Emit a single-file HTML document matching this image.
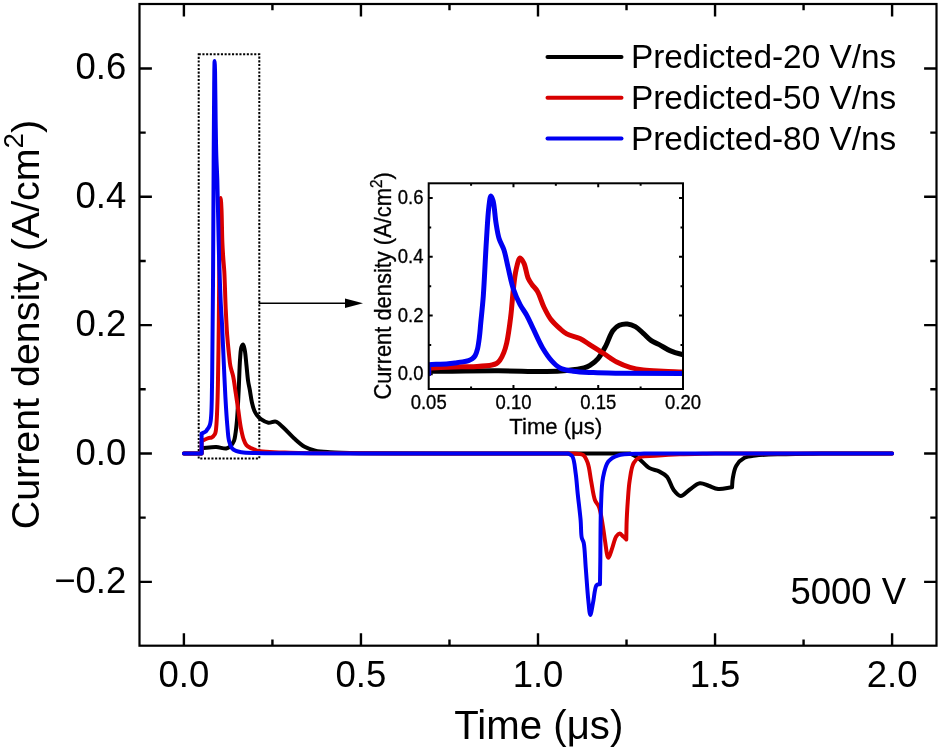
<!DOCTYPE html>
<html><head><meta charset="utf-8"><style>html,body{margin:0;padding:0;background:#fff;overflow:hidden}svg{display:block;will-change:transform}</style></head><body>
<svg width="940" height="750" viewBox="0 0 940 750">
<rect width="940" height="750" fill="#fff"/>
<defs><clipPath id="cm"><rect x="139.5" y="4.0" width="797.0" height="641.7"/></clipPath><clipPath id="ci"><rect x="428.7" y="183.3" width="254.3" height="205.7"/></clipPath></defs>
<path d="M183.90,645.7V633.30M183.90,4.0V16.40M272.43,645.7V639.50M272.43,4.0V10.20M360.95,645.7V633.30M360.95,4.0V16.40M449.48,645.7V639.50M449.48,4.0V10.20M538.00,645.7V633.30M538.00,4.0V16.40M626.52,645.7V639.50M626.52,4.0V10.20M715.05,645.7V633.30M715.05,4.0V16.40M803.58,645.7V639.50M803.58,4.0V10.20M892.10,645.7V633.30M892.10,4.0V16.40M139.5,581.85H151.90M936.5,581.85H924.10M139.5,517.67H145.70M936.5,517.67H930.30M139.5,453.50H151.90M936.5,453.50H924.10M139.5,389.32H145.70M936.5,389.32H930.30M139.5,325.15H151.90M936.5,325.15H924.10M139.5,260.97H145.70M936.5,260.97H930.30M139.5,196.80H151.90M936.5,196.80H924.10M139.5,132.62H145.70M936.5,132.62H930.30M139.5,68.45H151.90M936.5,68.45H924.10" stroke="#000" stroke-width="2.4" fill="none"/>
<rect x="198.7" y="54.3" width="60.6" height="404.2" fill="none" stroke="#000" stroke-width="2" stroke-dasharray="2.1,1.6"/>
<path d="M258.8,303.3H347" stroke="#000" stroke-width="1.6"/>
<path d="M345,298.5L363,303.3L345,308.1Z" fill="#000"/>
<g clip-path="url(#cm)" fill="none" stroke-width="4" stroke-linecap="round" stroke-linejoin="round">
<path d="M183.90,453.50L201.61,453.50L201.61,448.17C206.47,447.81 211.79,446.94 216.19,447.08C219.86,447.20 223.68,448.98 226.25,448.49C228.02,448.16 229.20,447.27 230.43,446.12C231.86,444.78 233.23,442.59 234.04,440.67C234.81,438.84 234.89,437.27 235.28,434.89C235.90,431.11 236.48,425.88 236.98,420.13C237.67,412.11 238.14,401.13 238.64,391.25C239.17,380.84 239.43,367.26 240.06,359.16C240.45,354.21 240.54,349.77 241.41,347.23C241.86,345.89 242.61,344.34 243.11,344.40C243.78,344.49 244.29,347.78 244.77,350.18C245.52,353.94 245.89,359.91 246.43,364.94C247.00,370.17 247.43,376.46 248.10,380.98C248.59,384.32 249.19,386.45 249.76,389.65C250.47,393.57 251.11,398.98 251.99,402.80C252.69,405.83 253.41,408.63 254.37,410.82C255.10,412.49 255.82,413.66 256.84,415.00C257.97,416.46 259.23,417.95 260.92,419.17C262.93,420.61 265.84,422.37 268.39,422.76C270.81,423.13 273.47,421.04 275.82,421.67C278.47,422.38 280.65,425.23 283.30,427.57C286.62,430.53 290.34,434.96 293.99,438.23C297.46,441.33 300.88,444.67 304.61,446.76C308.02,448.67 311.40,449.71 315.31,450.61C319.76,451.64 324.19,451.81 330.00,452.22C338.41,452.81 346.89,452.94 360.95,453.18C391.03,453.68 455.38,453.39 502.59,453.50L502.59,453.50L630.07,453.50L630.07,453.50C632.62,454.85 635.01,455.66 637.71,457.54C641.38,460.09 645.60,465.82 649.58,468.13C652.74,469.97 656.16,469.86 659.10,471.34C662.00,472.80 664.85,474.31 667.10,476.92C669.84,480.09 670.94,486.42 673.51,489.76C675.62,492.48 678.13,495.92 680.70,496.05C683.44,496.18 686.43,491.82 689.52,489.76C692.79,487.58 696.42,483.83 699.82,483.34C702.77,482.92 705.62,484.88 708.61,485.78C711.74,486.73 714.67,488.57 718.20,488.92C722.35,489.34 727.43,487.86 732.05,487.32L732.05,487.32C732.28,484.39 732.19,481.71 732.75,478.53C733.44,474.62 734.20,469.22 736.30,465.69C738.23,462.45 741.25,459.58 744.44,457.86C747.62,456.16 750.81,456.03 755.42,455.43C763.00,454.43 775.33,454.46 785.87,454.14C797.23,453.80 809.48,453.71 821.28,453.50L821.28,453.50L892.10,453.50" stroke="#000"/>
<path d="M183.90,453.50L201.61,453.50L201.61,441.05C203.87,440.07 206.52,438.68 208.40,438.10C209.67,437.70 210.69,438.00 211.70,437.46C212.86,436.83 214.13,435.41 214.81,434.25C215.40,433.24 215.51,432.33 215.77,431.04C216.14,429.16 216.26,426.83 216.48,423.98C216.80,419.60 217.06,413.19 217.29,407.29C217.55,400.66 217.70,394.93 217.89,386.12C218.21,371.48 218.51,347.26 218.74,327.72C218.97,308.03 219.07,286.71 219.27,268.44C219.45,252.71 219.55,237.35 219.84,224.56C220.06,214.61 220.33,198.05 220.69,198.05C220.93,198.04 221.27,204.83 221.51,209.69C221.89,217.79 221.99,233.36 222.36,242.13C222.60,248.12 222.88,252.25 223.21,257.24C223.53,262.12 223.97,265.81 224.30,271.73C224.83,281.04 225.17,296.66 225.68,307.73C226.12,317.21 226.50,325.89 227.10,334.13C227.63,341.42 228.38,348.81 229.01,354.67C229.49,359.08 229.71,362.51 230.43,366.22C231.12,369.77 232.40,372.73 233.19,376.49C234.13,380.94 234.68,386.13 235.46,391.25C236.30,396.79 237.20,402.65 238.08,408.58C239.00,414.82 239.80,422.25 240.87,427.83C241.71,432.19 242.52,436.24 243.64,439.38C244.46,441.69 245.16,443.70 246.43,445.16C247.56,446.44 249.21,447.18 250.61,447.92C251.90,448.59 253.41,448.95 254.51,449.46C255.36,449.85 255.48,450.27 256.70,450.61C261.20,451.88 276.91,452.25 290.13,452.73C309.35,453.43 337.34,453.24 360.95,453.37C384.56,453.50 408.16,453.46 431.77,453.50L431.77,453.50L573.41,453.50L573.41,453.50C576.60,453.97 580.58,453.30 582.97,454.91C585.32,456.49 586.46,459.62 587.72,462.93C589.44,467.49 589.84,474.28 591.01,480.26C592.26,486.68 593.17,495.44 595.01,500.22C596.15,503.19 597.87,503.99 599.01,506.96C600.85,511.75 601.97,520.91 603.01,526.98C603.87,531.99 604.18,535.95 605.00,540.78C605.91,546.16 606.89,557.65 608.32,557.78C609.45,557.89 611.00,551.29 612.29,547.84C613.66,544.15 614.60,538.67 616.29,536.29C617.30,534.87 618.57,533.58 619.69,533.59C620.80,533.60 621.91,535.32 622.98,536.29C624.10,537.29 625.18,538.42 626.28,539.49L626.28,539.49C626.42,533.08 626.45,526.60 626.70,520.24C626.95,513.98 627.29,508.05 627.76,501.63C628.27,494.75 628.64,486.98 629.71,480.26C630.69,474.15 631.31,466.97 633.68,462.93C635.36,460.07 637.39,458.22 640.30,456.97C644.04,455.35 649.46,456.14 654.99,455.75C662.15,455.23 670.68,454.64 679.64,454.27C690.37,453.83 703.25,453.76 715.05,453.50L715.05,453.50L892.10,453.50" stroke="#d80000"/>
<path d="M183.90,453.50L201.61,453.50L201.61,433.61C202.97,432.88 204.77,432.21 205.71,431.42C206.35,430.89 206.56,430.36 207.02,429.76C207.55,429.07 208.21,428.34 208.69,427.51C209.19,426.63 209.60,425.67 209.93,424.62C210.29,423.45 210.49,422.25 210.71,420.77C210.99,418.78 211.14,416.50 211.31,413.71C211.55,409.69 211.67,404.55 211.80,398.95C211.98,391.57 212.08,382.23 212.19,373.28C212.31,363.48 212.37,354.42 212.48,342.48C212.63,325.87 212.84,306.22 213.01,282.91C213.24,249.76 213.43,198.23 213.64,162.48C213.82,133.78 213.95,103.34 214.18,84.87C214.30,74.61 214.41,60.94 214.60,60.94C214.73,60.94 214.93,66.97 215.06,71.94C215.34,82.36 215.43,105.67 215.66,120.44C215.86,132.85 215.99,144.14 216.30,154.72C216.57,163.84 217.03,170.84 217.33,180.20C217.69,191.65 217.87,204.95 218.18,218.42C218.52,233.52 218.81,251.66 219.27,266.46C219.67,279.16 220.17,291.31 220.69,301.88C221.12,310.45 221.64,316.89 222.07,325.15C222.57,334.55 222.95,344.45 223.45,355.31C224.04,368.09 224.68,384.40 225.40,397.03C226.00,407.54 226.63,417.89 227.35,425.90C227.87,431.65 228.03,436.66 229.01,440.67C229.72,443.56 230.45,446.15 231.81,447.92C232.92,449.35 234.42,450.22 235.99,450.93C237.64,451.68 239.28,451.89 241.55,452.22C244.99,452.71 249.26,452.80 254.72,452.99C263.66,453.30 275.16,453.28 290.13,453.37C316.05,453.53 360.95,453.46 396.36,453.50L396.36,453.50L568.10,453.50L568.10,453.50C569.50,454.42 571.19,454.59 572.31,456.26C574.42,459.39 574.83,467.59 575.71,473.59C576.65,479.98 576.95,486.41 577.69,493.55C578.56,501.80 579.94,512.29 580.63,520.24C581.19,526.63 580.86,533.54 581.73,537.57C582.22,539.83 583.14,540.30 583.68,542.70C584.83,547.77 584.99,558.34 585.70,567.09C586.52,577.30 587.37,591.45 588.32,600.27C588.95,606.14 589.47,614.86 590.30,614.90C591.06,614.93 592.09,607.32 592.99,602.96C594.08,597.72 594.71,588.02 596.28,585.57C596.86,584.68 597.56,584.67 598.20,584.22L598.20,584.22L599.97,584.22L599.97,584.22C600.09,576.22 600.19,569.80 600.32,560.22C600.52,545.92 600.38,521.90 600.99,506.77C601.45,495.56 601.40,485.76 603.01,477.57C604.24,471.35 605.41,465.34 608.32,461.59C610.70,458.53 613.56,456.95 617.71,455.55C624.11,453.40 635.39,454.18 644.23,453.50L644.23,453.50L892.10,453.50" stroke="#0000f2"/>
</g>
<rect x="139.5" y="4.0" width="797.00" height="641.70" fill="none" stroke="#000" stroke-width="2.2"/>
<text x="126.3" y="592.85" font-size="36.5" text-anchor="end" font-family="'Liberation Sans', sans-serif">−0.2</text>
<text x="126.3" y="464.50" font-size="36.5" text-anchor="end" font-family="'Liberation Sans', sans-serif">0.0</text>
<text x="126.3" y="336.15" font-size="36.5" text-anchor="end" font-family="'Liberation Sans', sans-serif">0.2</text>
<text x="126.3" y="207.80" font-size="36.5" text-anchor="end" font-family="'Liberation Sans', sans-serif">0.4</text>
<text x="126.3" y="79.45" font-size="36.5" text-anchor="end" font-family="'Liberation Sans', sans-serif">0.6</text>
<text x="183.90" y="687.3" font-size="36.5" text-anchor="middle" font-family="'Liberation Sans', sans-serif">0.0</text>
<text x="360.95" y="687.3" font-size="36.5" text-anchor="middle" font-family="'Liberation Sans', sans-serif">0.5</text>
<text x="538.00" y="687.3" font-size="36.5" text-anchor="middle" font-family="'Liberation Sans', sans-serif">1.0</text>
<text x="715.05" y="687.3" font-size="36.5" text-anchor="middle" font-family="'Liberation Sans', sans-serif">1.5</text>
<text x="892.10" y="687.3" font-size="36.5" text-anchor="middle" font-family="'Liberation Sans', sans-serif">2.0</text>
<text x="538.8" y="738.7" font-size="40.2" text-anchor="middle" font-family="'Liberation Sans', sans-serif">Time (μs)</text>
<text transform="translate(38.7,529.3) rotate(-90)" font-size="39.4" font-family="'Liberation Sans', sans-serif">Current density (A/cm<tspan font-size="27.6" dy="-16">2</tspan><tspan dy="16">)</tspan></text>
<text x="790.4" y="603.6" font-size="36.5" font-family="'Liberation Sans', sans-serif">5000 V</text>
<path d="M547.5,57.00H621.5" stroke="#000" stroke-width="4" stroke-linecap="round"/>
<text x="630.9" y="68.40" font-size="33.4" font-family="'Liberation Sans', sans-serif">Predicted-20 V/ns</text>
<path d="M547.5,97.75H621.5" stroke="#d80000" stroke-width="4" stroke-linecap="round"/>
<text x="630.9" y="109.15" font-size="33.4" font-family="'Liberation Sans', sans-serif">Predicted-50 V/ns</text>
<path d="M547.5,138.50H621.5" stroke="#0000f2" stroke-width="4" stroke-linecap="round"/>
<text x="630.9" y="149.90" font-size="33.4" font-family="'Liberation Sans', sans-serif">Predicted-80 V/ns</text>
<rect x="408.7" y="181.3" width="276.3" height="209.7" fill="#fff"/>
<path d="M471.08,389.0V386.50M471.08,183.3V185.80M513.47,389.0V385.00M513.47,183.3V187.30M555.85,389.0V386.50M555.85,183.3V185.80M598.23,389.0V385.00M598.23,183.3V187.30M640.62,389.0V386.50M640.62,183.3V185.80M428.7,374.31H432.70M683.0,374.31H679.00M428.7,344.92H431.20M683.0,344.92H680.50M428.7,315.54H432.70M683.0,315.54H679.00M428.7,286.15H431.20M683.0,286.15H680.50M428.7,256.76H432.70M683.0,256.76H679.00M428.7,227.38H431.20M683.0,227.38H680.50M428.7,197.99H432.70M683.0,197.99H679.00" stroke="#000" stroke-width="2" fill="none"/>
<g clip-path="url(#ci)" fill="none" stroke-width="5" stroke-linecap="round" stroke-linejoin="round">
<path d="M343.93,373.78L428.70,373.78L428.70,371.35C451.98,371.18 477.42,370.78 498.55,370.85C516.09,370.90 534.12,371.75 546.70,371.49C554.81,371.33 560.29,371.04 566.70,370.41C572.69,369.82 579.79,369.13 583.99,367.92C586.55,367.18 587.88,366.55 589.93,365.28C592.53,363.67 595.58,361.42 598.06,358.54C601.06,355.07 603.60,349.94 606.03,345.36C608.52,340.67 610.14,334.22 612.81,330.71C614.75,328.18 616.81,326.38 619.26,325.26C621.67,324.15 624.72,323.75 627.39,323.97C630.09,324.19 632.83,325.19 635.36,326.61C638.18,328.19 640.70,331.03 643.33,333.35C646.01,335.71 648.50,338.75 651.30,340.67C653.84,342.42 656.44,343.13 659.27,344.63C662.59,346.38 666.25,349.02 669.95,350.63C673.60,352.23 677.44,353.37 681.30,354.30C685.18,355.23 688.72,355.63 693.17,356.20C698.86,356.93 705.18,357.57 712.67,358.10C722.79,358.83 736.53,359.55 748.44,359.74C760.32,359.93 772.17,358.88 784.04,359.25C795.96,359.61 806.83,360.84 819.81,361.94C835.36,363.27 853.97,365.34 871.01,366.81C887.99,368.26 904.88,369.76 921.87,370.70C938.90,371.65 954.65,372.05 973.07,372.46C994.66,372.94 1015.66,373.01 1043.43,373.19C1083.73,373.46 1124.28,373.52 1191.60,373.63C1335.61,373.86 1643.69,373.73 1869.73,373.78L1869.73,373.78L2480.05,373.78L2480.05,373.78C2492.26,374.39 2503.14,374.71 2516.67,375.62C2533.54,376.77 2555.56,379.41 2573.47,380.46C2589.49,381.40 2604.54,381.21 2619.07,381.92C2632.40,382.58 2645.37,382.93 2657.39,384.47C2668.23,385.86 2677.51,388.89 2688.07,390.33C2699.17,391.85 2710.43,393.11 2722.49,393.20C2735.84,393.30 2750.08,391.26 2764.70,390.33C2780.50,389.32 2798.24,387.66 2814.03,387.40C2828.60,387.16 2841.75,388.10 2856.08,388.51C2871.05,388.95 2885.31,389.78 2902.02,389.95C2922.10,390.15 2946.21,389.46 2968.31,389.22L2968.31,389.22C2969.44,387.88 2969.89,386.44 2971.70,385.20C2975.04,382.91 2981.73,380.84 2988.65,379.34C2998.88,377.14 3013.67,376.56 3027.65,375.77C3043.84,374.86 3058.31,374.93 3080.20,374.66C3116.66,374.20 3175.57,374.22 3226.00,374.07C3280.38,373.91 3339.02,373.88 3395.53,373.78L3395.53,373.78L3734.60,373.78" stroke="#000"/>
<path d="M343.93,373.78L428.70,373.78L428.70,368.09C439.55,367.65 452.34,367.01 461.25,366.75C467.45,366.56 471.84,366.76 477.02,366.45C482.06,366.16 488.42,365.72 491.94,364.99C493.93,364.58 495.18,364.31 496.51,363.52C497.83,362.74 498.85,361.72 499.90,360.30C501.34,358.39 502.70,355.43 503.80,352.68C505.00,349.70 505.77,347.08 506.69,343.02C508.17,336.37 509.65,325.26 510.75,316.35C511.85,307.48 512.34,297.89 513.30,289.69C514.12,282.64 514.67,275.75 516.01,270.06C517.08,265.51 518.46,258.31 520.08,258.05C521.24,257.87 522.84,260.99 523.98,263.33C525.71,266.88 526.38,274.12 528.05,277.98C529.24,280.75 530.59,282.54 532.12,284.71C533.69,286.94 535.71,288.37 537.37,291.16C539.77,295.19 541.60,302.36 543.98,307.27C546.10,311.64 548.06,315.68 550.76,319.28C553.40,322.79 557.01,326.06 559.92,328.66C562.27,330.76 563.92,332.41 566.70,333.93C570.26,335.88 575.83,336.65 579.92,338.62C583.83,340.50 587.03,343.02 590.77,345.36C594.81,347.88 599.08,350.54 603.32,353.27C607.72,356.10 612.14,359.68 616.71,362.06C621.02,364.30 625.45,366.01 629.94,367.33C634.33,368.63 638.40,369.33 643.33,369.97C649.31,370.74 656.78,370.90 663.33,371.23C669.66,371.55 676.65,371.70 681.98,371.93C685.99,372.11 686.91,372.30 692.49,372.46C714.26,373.07 789.29,373.21 852.53,373.43C944.59,373.74 1078.58,373.66 1191.60,373.72C1304.62,373.78 1417.64,373.76 1530.67,373.78L1530.67,373.78L2208.80,373.78L2208.80,373.78C2224.06,373.99 2241.99,373.33 2254.57,374.42C2263.49,375.20 2270.56,375.91 2277.29,378.08C2283.19,379.99 2287.53,383.30 2293.06,386.00C2299.12,388.96 2305.68,393.07 2312.22,395.11C2318.46,397.05 2325.12,396.23 2331.37,398.18C2337.91,400.22 2345.34,404.38 2350.53,407.32C2354.33,409.48 2356.37,411.53 2360.02,413.62C2364.58,416.23 2370.30,420.77 2375.96,421.39C2381.90,422.04 2388.62,418.47 2394.95,416.85C2401.33,415.20 2407.93,412.65 2414.10,411.57C2419.70,410.60 2425.00,410.34 2430.38,410.34C2435.68,410.35 2440.89,411.12 2446.15,411.57C2451.40,412.02 2456.66,412.55 2461.91,413.04L2461.91,413.04C2462.59,410.11 2462.81,407.07 2463.95,404.25C2465.14,401.29 2466.89,398.56 2469.03,395.75C2471.53,392.47 2474.35,388.75 2478.36,386.00C2483.31,382.60 2490.05,379.87 2497.35,378.08C2506.42,375.86 2516.39,375.95 2529.05,375.36C2547.87,374.48 2572.94,374.98 2599.40,374.80C2633.68,374.57 2674.51,374.30 2717.40,374.13C2768.80,373.93 2830.42,373.90 2886.93,373.78L2886.93,373.78L3734.60,373.78" stroke="#d80000"/>
<path d="M343.93,373.78L428.70,373.78L428.70,364.70C435.26,364.36 443.64,364.11 448.37,363.70C451.04,363.47 452.42,363.22 454.64,362.94C457.14,362.63 460.16,362.34 462.61,361.91C464.74,361.54 466.82,361.18 468.54,360.59C469.96,360.11 471.18,359.65 472.27,358.84C473.39,358.00 474.34,356.98 475.15,355.61C476.19,353.85 476.87,351.46 477.53,348.88C478.37,345.54 478.87,341.25 479.39,337.16C479.96,332.69 480.23,328.54 480.75,323.09C481.47,315.56 482.50,306.69 483.29,296.14C484.41,281.21 485.30,258.05 486.34,241.94C487.18,228.95 487.80,215.13 488.88,206.78C489.49,202.11 490.03,196.04 490.92,195.94C491.55,195.86 492.47,198.61 493.12,200.92C494.43,205.59 494.91,216.22 496.00,222.90C496.93,228.54 497.60,233.70 499.06,238.42C500.35,242.63 502.56,245.66 503.97,249.97C505.65,255.09 506.58,261.20 508.04,267.28C509.67,274.07 511.11,282.27 513.30,288.82C515.22,294.58 517.64,299.98 520.08,304.64C522.15,308.60 524.59,311.37 526.69,315.18C529.02,319.41 530.90,324.00 533.30,328.95C536.13,334.79 539.28,342.35 542.63,348.00C545.55,352.92 548.73,357.67 551.95,361.18C554.54,364.00 556.69,366.27 559.92,367.92C563.63,369.81 568.36,370.45 573.31,371.23C579.28,372.16 586.17,372.28 593.32,372.61C601.55,372.98 609.18,373.04 619.93,373.19C636.49,373.42 656.88,373.46 683.00,373.54C725.82,373.69 780.88,373.68 852.53,373.72C976.64,373.79 1191.60,373.76 1361.13,373.78L1361.13,373.78L2183.37,373.78L2183.37,373.78C2190.09,374.20 2197.33,373.40 2203.54,375.04C2209.43,376.59 2215.32,379.81 2219.82,382.95C2223.66,385.62 2225.79,388.85 2229.31,392.06C2233.50,395.88 2240.00,400.40 2243.38,404.25C2245.80,406.99 2246.22,410.45 2248.64,412.16C2251.07,413.88 2255.08,412.73 2257.96,414.50C2261.53,416.69 2264.22,421.62 2267.63,425.63C2271.56,430.28 2276.03,436.95 2280.17,440.78C2283.36,443.73 2286.15,447.09 2289.67,447.46C2293.53,447.87 2298.08,444.08 2302.55,442.01C2307.58,439.69 2313.66,435.35 2318.32,434.07C2321.68,433.15 2324.42,433.66 2327.47,433.46L2327.47,433.46L2335.95,433.46L2335.95,433.46C2336.52,429.80 2337.02,426.88 2337.65,422.50C2338.58,415.98 2338.22,404.74 2340.87,398.10C2343.03,392.66 2345.78,388.09 2350.53,384.76C2356.55,380.54 2366.18,379.15 2375.96,377.47C2388.72,375.28 2402.10,375.36 2420.89,374.72C2452.45,373.63 2505.54,374.09 2547.87,373.78L2547.87,373.78L3734.60,373.78" stroke="#0000f2"/>
</g>
<rect x="428.7" y="183.3" width="254.30" height="205.70" fill="none" stroke="#000" stroke-width="2"/>
<text transform="translate(423.5,380.31) scale(1,1.09)" font-size="18.5" text-anchor="end" stroke="#000" stroke-width="0.3" font-family="'Liberation Sans', sans-serif">0.0</text>
<text transform="translate(423.5,321.54) scale(1,1.09)" font-size="18.5" text-anchor="end" stroke="#000" stroke-width="0.3" font-family="'Liberation Sans', sans-serif">0.2</text>
<text transform="translate(423.5,262.76) scale(1,1.09)" font-size="18.5" text-anchor="end" stroke="#000" stroke-width="0.3" font-family="'Liberation Sans', sans-serif">0.4</text>
<text transform="translate(423.5,203.99) scale(1,1.09)" font-size="18.5" text-anchor="end" stroke="#000" stroke-width="0.3" font-family="'Liberation Sans', sans-serif">0.6</text>
<text transform="translate(428.70,408.5) scale(1,1.09)" font-size="18.5" text-anchor="middle" stroke="#000" stroke-width="0.3" font-family="'Liberation Sans', sans-serif">0.05</text>
<text transform="translate(513.47,408.5) scale(1,1.09)" font-size="18.5" text-anchor="middle" stroke="#000" stroke-width="0.3" font-family="'Liberation Sans', sans-serif">0.10</text>
<text transform="translate(598.23,408.5) scale(1,1.09)" font-size="18.5" text-anchor="middle" stroke="#000" stroke-width="0.3" font-family="'Liberation Sans', sans-serif">0.15</text>
<text transform="translate(683.00,408.5) scale(1,1.09)" font-size="18.5" text-anchor="middle" stroke="#000" stroke-width="0.3" font-family="'Liberation Sans', sans-serif">0.20</text>
<text transform="translate(555.8,433.6) scale(1,1.04)" font-size="22.1" text-anchor="middle" stroke="#000" stroke-width="0.3" font-family="'Liberation Sans', sans-serif">Time (μs)</text>
<text transform="translate(390.8,399.6) rotate(-90) scale(0.986,1.06)" font-size="22.2" stroke="#000" stroke-width="0.3" font-family="'Liberation Sans', sans-serif">Current density (A/cm<tspan font-size="15.6" dy="-8.1">2</tspan><tspan dy="8.1">)</tspan></text>
</svg>
</body></html>
